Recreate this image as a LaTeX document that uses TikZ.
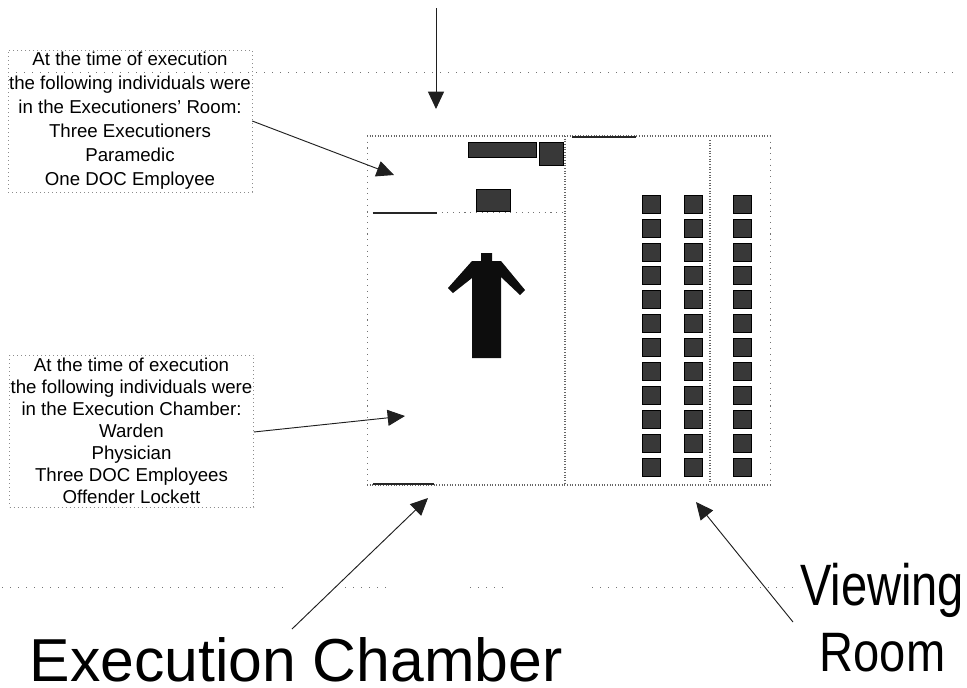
\documentclass[tikz,border=0pt]{standalone}
\usepackage{fontspec}
\setmainfont{Liberation Sans}
\usetikzlibrary{arrows.meta, positioning}
\tikzset{
    wall/.style={draw=black!60, dash pattern=on 0.8pt off 1.2pt, line width=0.8pt},
    sidewall/.style={draw=black!55, line width=0.6pt, dash pattern=on 0.8pt off 3.5pt},
    heavywall/.style={draw=black!85, line width=1.5pt},
    scanline/.style={draw=black!55, line width=0.6pt, dash pattern=on 1pt off 5pt},
    pointer/.style={-{Triangle[length=13pt, width=12pt]}, black!88, line width=0.7pt},
    infobox/.style={draw=black!45, dash pattern=on 0.6pt off 2.4pt, align=center, minimum width=183pt, inner sep=0pt},
    seatbox/.style={draw=black, fill=black!78, minimum width=13.5pt, minimum height=13.5pt, inner sep=0pt},
    roomlabel/.style={anchor=base, inner sep=0pt}
}
\begin{document}
\begin{tikzpicture}[x=0.75pt, y=-0.75pt]
    \useasboundingbox (0,0) rectangle (967,687);

    % --- Walls ---
    \draw[wall] (367,136) -- (770,136);
    \draw[wall] (367,485) -- (770,485);
    \draw[sidewall] (367,136) -- (367,485);
    \draw[sidewall] (770,136) -- (770,485);
    \draw[wall] (565,136) -- (565,485);
    \draw[wall] (710,140) -- (710,483);
    \draw[sidewall] (367,212) -- (565,212);
    \draw[heavywall] (373,213) -- (437,213);
    \draw[heavywall] (373,484) -- (434,484);
    \draw[heavywall] (572,137) -- (636,137);

    % --- Faint scan lines ---
    \draw[scanline] (8,72) -- (955,72);
    \draw[scanline] (2,587) -- (285,587);
    \draw[scanline] (345,587) -- (390,587);
    \draw[scanline] (470,587) -- (505,587);
    \draw[scanline] (592,587) -- (800,587);

    % --- Furniture ---
    \node[seatbox, minimum width=51pt, minimum height=11pt] (desk) at (502,149.5) {};
    \node[seatbox, minimum width=18pt, minimum height=17pt] (stool) at (551,153.5) {};
    \node[seatbox, minimum width=25.5pt, minimum height=16.5pt] (cart) at (493,200) {};

    % --- Seats ---
    \foreach \row in {0,...,11} {
        \node[seatbox] (seatA\row) at (651,204+\row*23.9) {};
        \node[seatbox] (seatB\row) at (693,204+\row*23.9) {};
        \node[seatbox] (seatC\row) at (742,204+\row*23.9) {};
    }

    % --- Offender ---
    \fill[black!95] (481,253) -- (492,253) -- (492,261) -- (501,261) -- (525,290) -- (520,295) -- (501,277)
        -- (501,358) -- (472,358) -- (472,278) -- (453,293) -- (448,288) -- (472,261) -- (481,261) -- cycle;

    % --- Text boxes ---
    \node[infobox, minimum height=106.5pt, font=\fontsize{14}{18}\selectfont] (exroom) at (130,121) {At the time of execution\\the following individuals were\\in the Executioners' Room:\\Three Executioners\\Paramedic\\One DOC Employee};
    \node[infobox, minimum height=114pt, font=\fontsize{14}{16.5}\selectfont] (chamber) at (131.5,431) {At the time of execution\\the following individuals were\\in the Execution Chamber:\\Warden\\Physician\\Three DOC Employees\\Offender Lockett};

    % --- Room labels ---
    \node[roomlabel, font=\fontsize{45.5}{50}\selectfont] (chlabel) at (296,681) {Execution Chamber};
    \node[roomlabel, font=\fontsize{35.3}{40}\selectfont] (viewlabel) at (882,605) {\scalebox{1}[1.24]{Viewing}};
    \node[roomlabel, font=\fontsize{35.3}{40}\selectfont] (rmlabel) at (882.5,671) {\scalebox{1}[1.18]{Room}};

    % --- Pointers ---
    \coordinate (topstart) at (436,8);
    \coordinate (toptip) at (436,109);
    \coordinate (extip) at (394,175);
    \coordinate (chtip) at (405,416);
    \coordinate (cltip) at (428,498);
    \coordinate (vwtip) at (696,502);
    \coordinate (cltail) at (292,629);
    \coordinate (vwtail) at (793,622);
    \draw[pointer] (topstart) -- (toptip);
    \draw[pointer] (exroom.east |- 0,121) -- (extip);
    \draw[pointer] (chamber.east |- 0,432) -- (chtip);
    \draw[pointer] (cltail) -- (cltip);
    \draw[pointer] (vwtail) -- (vwtip);
\end{tikzpicture}
\end{document}
